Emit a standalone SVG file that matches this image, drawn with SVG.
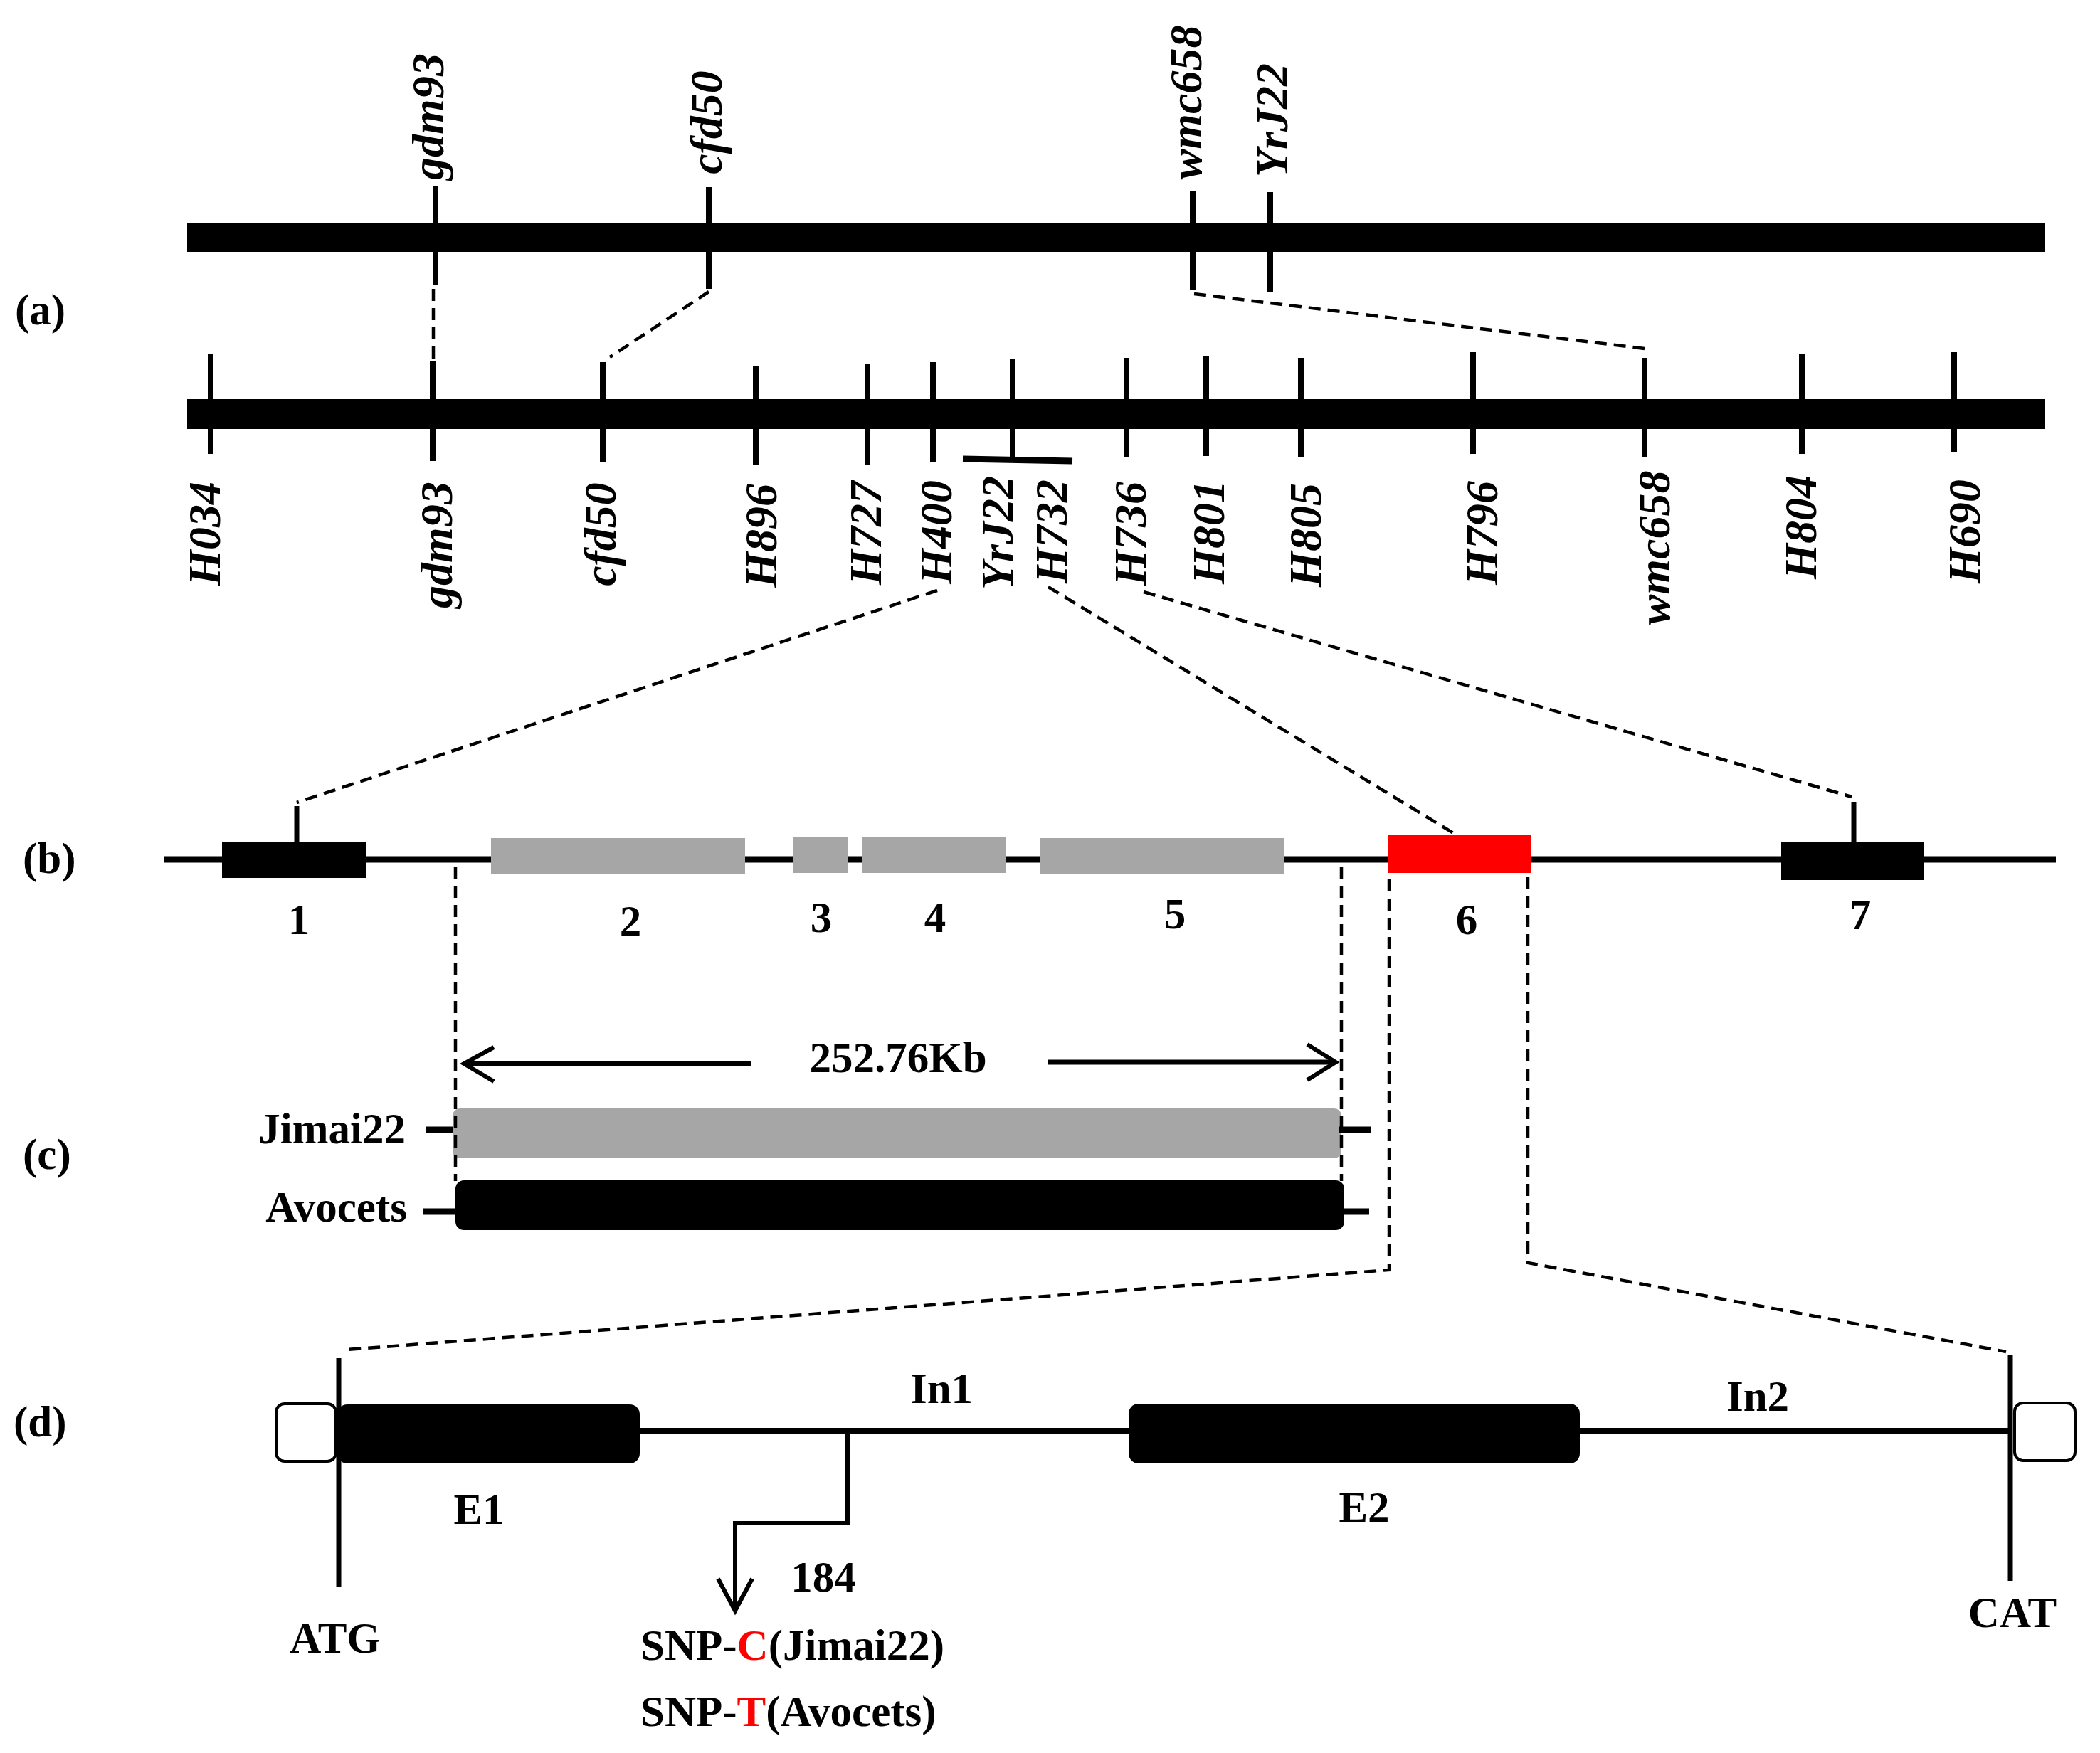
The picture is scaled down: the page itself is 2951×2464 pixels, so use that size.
<svg xmlns="http://www.w3.org/2000/svg" width="2951" height="2464" viewBox="0 0 2951 2464">
<style>
text{font-family:"Liberation Serif","Times New Roman",serif;font-weight:bold;fill:#000}
.mk{font-style:italic;font-size:64px;text-anchor:middle}
.lb{font-size:61px}
.mid{text-anchor:middle}
.tick{stroke:#000;stroke-width:8;fill:none}
.dash{stroke:#000;stroke-width:4.5;stroke-dasharray:17 10;fill:none}
.ln{stroke:#000;fill:none}
.red{fill:#ff0000}
.gray{fill:#a6a6a6}
</style>
<rect width="2951" height="2464" fill="#fff"/>

<g id="panel-labels" class="lb">
<text x="21" y="456">(a)</text>
<text x="32" y="1227">(b)</text>
<text x="32" y="1643">(c)</text>
<text x="19" y="2019">(d)</text>
</g>

<g id="chrom-top">
<rect x="263" y="313" width="2611" height="41" fill="#000"/>
</g>
<g id="top-gdm93"><line class="tick" x1="612" y1="261" x2="612" y2="401"/><text class="mk" transform="translate(623,164) rotate(-90)">gdm93</text></g>
<g id="top-cfd50"><line class="tick" x1="996" y1="263" x2="996" y2="406"/><text class="mk" transform="translate(1014,172) rotate(-90)">cfd50</text></g>
<g id="top-wmc658"><line class="tick" x1="1676" y1="268" x2="1676" y2="408"/><text class="mk" transform="translate(1688,144) rotate(-90)">wmc658</text></g>
<g id="top-YrJ22"><line class="tick" x1="1785" y1="270" x2="1785" y2="411"/><text class="mk" transform="translate(1809,169) rotate(-90)">YrJ22</text></g>

<g id="chrom-bottom">
<rect x="263" y="561" width="2611" height="42" fill="#000"/>
</g>
<g id="m-H034"><line class="tick" x1="296" y1="498" x2="296" y2="638"/><text class="mk" transform="translate(309,750) rotate(-90)">H034</text></g>
<g id="m-gdm93"><line class="tick" x1="608" y1="507" x2="608" y2="648"/><text class="mk" transform="translate(635,766) rotate(-90)">gdm93</text></g>
<g id="m-cfd50"><line class="tick" x1="847" y1="509" x2="847" y2="650"/><text class="mk" transform="translate(865,751) rotate(-90)">cfd50</text></g>
<g id="m-H896"><line class="tick" x1="1062" y1="514" x2="1062" y2="654"/><text class="mk" transform="translate(1091,753) rotate(-90)">H896</text></g>
<g id="m-H727"><line class="tick" x1="1219" y1="512" x2="1219" y2="654"/><text class="mk" transform="translate(1238,749) rotate(-90)">H727</text></g>
<g id="m-H400"><line class="tick" x1="1311" y1="509" x2="1311" y2="650"/><text class="mk" transform="translate(1337,748) rotate(-90)">H400</text></g>
<g id="m-YrJ22"><line class="tick" x1="1423" y1="505" x2="1423" y2="645"/><line class="ln" stroke-width="9" x1="1353" y1="645" x2="1507" y2="648"/><text class="mk" transform="translate(1423,749) rotate(-90)">YrJ22</text></g>
<g id="m-H732"><text class="mk" transform="translate(1499,747) rotate(-90)">H732</text></g>
<g id="m-H736"><line class="tick" x1="1583" y1="503" x2="1583" y2="643"/><text class="mk" transform="translate(1610,750) rotate(-90)">H736</text></g>
<g id="m-H801"><line class="tick" x1="1695" y1="500" x2="1695" y2="641"/><text class="mk" transform="translate(1720,748) rotate(-90)">H801</text></g>
<g id="m-H805"><line class="tick" x1="1828" y1="503" x2="1828" y2="643"/><text class="mk" transform="translate(1856,752) rotate(-90)">H805</text></g>
<g id="m-H796"><line class="tick" x1="2070" y1="495" x2="2070" y2="638"/><text class="mk" transform="translate(2104,749) rotate(-90)">H796</text></g>
<g id="m-wmc658"><line class="tick" x1="2311" y1="503" x2="2311" y2="643"/><text class="mk" transform="translate(2346,770) rotate(-90)">wmc658</text></g>
<g id="m-H804"><line class="tick" x1="2532" y1="498" x2="2532" y2="638"/><text class="mk" transform="translate(2552,741) rotate(-90)">H804</text></g>
<g id="m-H690"><line class="tick" x1="2746" y1="495" x2="2746" y2="636"/><text class="mk" transform="translate(2782,747) rotate(-90)">H690</text></g>

<g id="region-b">
<line class="ln" stroke-width="9" x1="230" y1="1208" x2="2889" y2="1208"/>
</g>
<g id="gene1"><rect x="312" y="1183" width="202" height="51" fill="#000"/><line class="ln" stroke-width="7" x1="417" y1="1133" x2="417" y2="1183"/><text class="lb mid" x="420" y="1313">1</text></g>
<g id="gene2"><rect class="gray" x="690" y="1178" width="357" height="51"/><text class="lb mid" x="886" y="1315">2</text></g>
<g id="gene3"><rect class="gray" x="1114" y="1176" width="77" height="51"/><text class="lb mid" x="1154" y="1310">3</text></g>
<g id="gene4"><rect class="gray" x="1212" y="1176" width="202" height="51"/><text class="lb mid" x="1314" y="1310">4</text></g>
<g id="gene5"><rect class="gray" x="1461" y="1178" width="343" height="51"/><text class="lb mid" x="1651" y="1305">5</text></g>
<g id="gene6"><rect x="1951" y="1173" width="201" height="54" fill="#ff0000"/><text class="lb mid" x="2061" y="1313">6</text></g>
<g id="gene7"><rect x="2503" y="1183" width="200" height="54" fill="#000"/><line class="ln" stroke-width="7" x1="2605" y1="1127" x2="2605" y2="1183"/><text class="lb mid" x="2614" y="1306">7</text></g>

<g id="span-252">
<line class="ln" stroke-width="7" x1="652" y1="1495" x2="1056" y2="1495"/>
<polyline class="ln" stroke-width="6" points="694,1472 652,1495 694,1520"/>
<line class="ln" stroke-width="7" x1="1472" y1="1493" x2="1876" y2="1493"/>
<polyline class="ln" stroke-width="6" points="1837,1468 1877,1493 1837,1518"/>
<text class="lb mid" x="1262" y="1507">252.76Kb</text>
</g>
<g id="jimai22">
<text class="lb" x="570" y="1607" text-anchor="end">Jimai22</text>
<line class="ln" stroke-width="9" x1="598" y1="1588" x2="640" y2="1588"/>
<rect class="gray" x="636" y="1558" width="1249" height="70" rx="10"/>
<line class="ln" stroke-width="9" x1="1882" y1="1588" x2="1926" y2="1588"/>
</g>
<g id="avocets">
<text class="lb" x="572" y="1717" text-anchor="end">Avocets</text>
<line class="ln" stroke-width="9" x1="595" y1="1703" x2="644" y2="1703"/>
<rect x="640" y="1659" width="1249" height="70" rx="12" fill="#000"/>
<line class="ln" stroke-width="9" x1="1885" y1="1703" x2="1924" y2="1703"/>
</g>

<g id="gene-structure">
<line class="ln" stroke-width="8" x1="899" y1="2011" x2="1590" y2="2011"/>
<line class="ln" stroke-width="8" x1="2216" y1="2011" x2="2825" y2="2011"/>
<rect x="388" y="1973" width="84" height="81" rx="12" fill="#fff" stroke="#000" stroke-width="4"/>
<rect x="2831" y="1972" width="85" height="81" rx="12" fill="#fff" stroke="#000" stroke-width="4"/>
<line class="ln" stroke-width="7" x1="476" y1="1909" x2="476" y2="2231"/>
<line class="ln" stroke-width="7" x1="2825" y1="1904" x2="2825" y2="2222"/>
<text class="lb mid" x="471" y="2323">ATG</text>
<text class="lb mid" x="2828" y="2287">CAT</text>
</g>
<g id="E1"><rect x="474" y="1974" width="425" height="83" rx="14" fill="#000"/><text class="lb mid" x="673" y="2142">E1</text></g>
<g id="E2"><rect x="1586" y="1973" width="634" height="84" rx="14" fill="#000"/><text class="lb mid" x="1917" y="2139">E2</text></g>
<g id="In1"><text class="lb mid" x="1323" y="1972">In1</text></g>
<g id="In2"><text class="lb mid" x="2470" y="1983">In2</text></g>
<g id="snp">
<polyline class="ln" stroke-width="6" points="1191,2011 1191,2141 1033,2141 1033,2262"/>
<polyline class="ln" stroke-width="6" points="1009,2219 1033,2264 1057,2219"/>
<text class="lb mid" x="1157" y="2237">184</text>
<text class="lb" x="900" y="2333">SNP-<tspan class="red">C</tspan>(Jimai22)</text>
<text class="lb" x="900" y="2426">SNP-<tspan class="red">T</tspan>(Avocets)</text>
</g>

<g id="connectors">
<line class="dash" x1="609" y1="406" x2="609" y2="505"/>
<line class="dash" x1="996" y1="410" x2="857" y2="502"/>
<line class="dash" x1="1678" y1="413" x2="2311" y2="490"/>
<line class="dash" x1="1317" y1="830" x2="417" y2="1128"/>
<line class="dash" x1="1473" y1="825" x2="2044" y2="1172"/>
<line class="dash" x1="1607" y1="832" x2="2602" y2="1120"/>
<line class="dash" x1="640" y1="1218" x2="640" y2="1660"/>
<line class="dash" x1="1885" y1="1218" x2="1885" y2="1660"/>
<polyline class="dash" points="1952,1236 1952,1785 488,1897"/>
<polyline class="dash" points="2147,1232 2147,1775 2819,1900"/>
</g>
</svg>
